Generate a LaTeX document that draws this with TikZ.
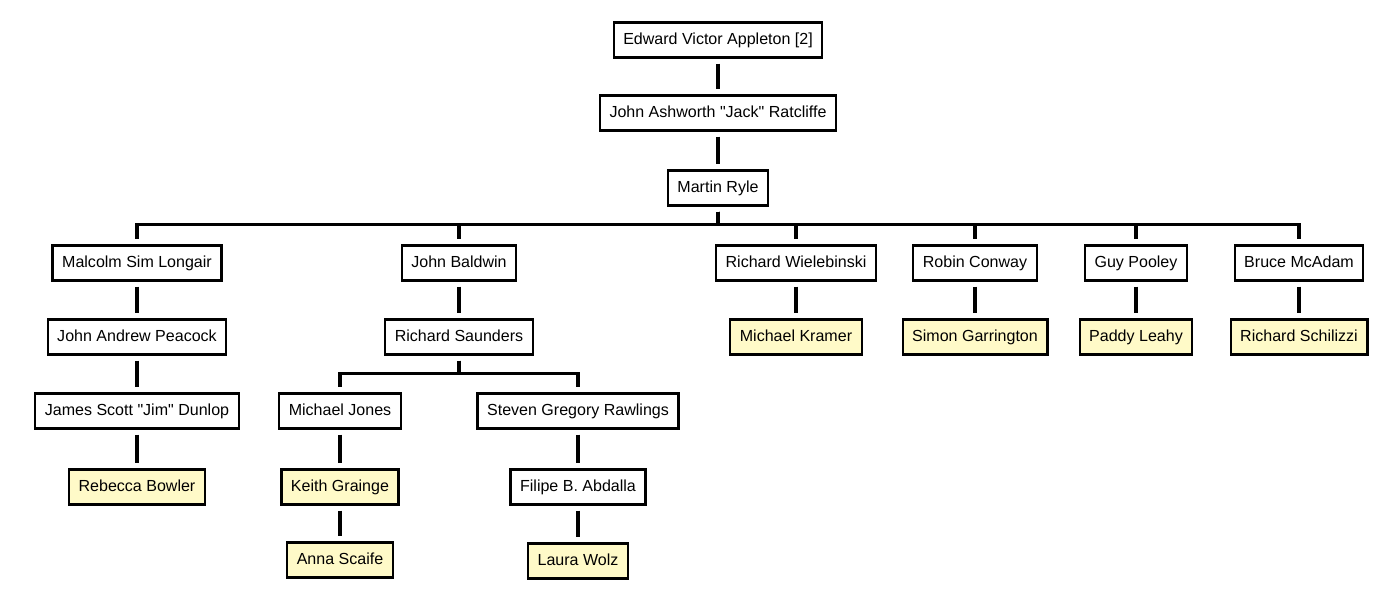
\documentclass[tikz,border=0pt]{standalone}
\usepackage{fontspec}
\setmainfont{Liberation Sans}
\usepackage{tikz}
\definecolor{leafyellow}{RGB}{255,250,200}

\begin{document}
\begin{tikzpicture}[x=0.025cm, y=-0.025cm,
                box/.style={rectangle, draw, line width=1.6pt, fill=white,
                minimum height=24.9pt, inner xsep=6.8pt, inner ysep=0pt,
                text height=8.4pt, text depth=2.4pt,
                font=\fontsize{11.4}{13}\selectfont},
                leaf/.style={box, fill=leafyellow},
                link/.style={line width=2.4pt, shorten <=3.5pt, shorten >=3.5pt}
            ]
        \useasboundingbox (0,0) rectangle (1400,600);

        \node[box]  (appleton)   at (718,40)  {Edward Victor Appleton [2]};
        \node[box]  (ratcliffe)  at (718,113) {John Ashworth \textquotedbl Jack\textquotedbl{} Ratcliffe};
        \node[box]  (ryle)       at (718,188) {Martin Ryle};

        \node[box]  (longair)    at (137,263)  {Malcolm Sim Longair};
        \node[box]  (baldwin)    at (459,263)  {John Baldwin};
        \node[box]  (wielebinski) at (796,263) {Richard Wielebinski};
        \node[box]  (conway)     at (975,263)  {Robin Conway};
        \node[box]  (pooley)     at (1136,263) {Guy Pooley};
        \node[box]  (mcadam)     at (1299,263) {Bruce McAdam};

        \node[box]  (peacock)    at (137,337)  {John Andrew Peacock};
        \node[box]  (saunders)   at (459,337)  {Richard Saunders};
        \node[leaf] (kramer)     at (796,337)  {Michael Kramer};
        \node[leaf] (garrington) at (975,337)  {Simon Garrington};
        \node[leaf] (leahy)      at (1136,337) {Paddy Leahy};
        \node[leaf] (schilizzi)  at (1299,337) {Richard Schilizzi};

        \node[box]  (dunlop)     at (137,411)  {James Scott \textquotedbl Jim\textquotedbl{} Dunlop};
        \node[box]  (jones)      at (340,411)  {Michael Jones};
        \node[box]  (rawlings)   at (578,411)  {Steven Gregory Rawlings};

        \node[leaf] (bowler)     at (137,487)  {Rebecca Bowler};
        \node[leaf] (grainge)    at (340,487)  {Keith Grainge};
        \node[box]  (abdalla)    at (578,487)  {Filipe B. Abdalla};

        \node[leaf] (scaife)     at (340,560)  {Anna Scaife};
        \node[leaf] (wolz)       at (578,561)  {Laura Wolz};

        \draw[link] (appleton)  -- (ratcliffe);
        \draw[link] (ratcliffe) -- (ryle);
        \foreach \child in {longair, baldwin, wielebinski, conway, pooley, mcadam}
            \draw[link] (ryle.south) -- ++(0,18) -| (\child.north);
        \draw[link] (longair)     -- (peacock);
        \draw[link] (baldwin)     -- (saunders);
        \draw[link] (wielebinski) -- (kramer);
        \draw[link] (conway)      -- (garrington);
        \draw[link] (pooley)      -- (leahy);
        \draw[link] (mcadam)      -- (schilizzi);
        \draw[link] (peacock)     -- (dunlop);
        \foreach \child in {jones, rawlings}
            \draw[link] (saunders.south) -- ++(0,18) -| (\child.north);
        \draw[link] (dunlop)   -- (bowler);
        \draw[link] (jones)    -- (grainge);
        \draw[link] (rawlings) -- (abdalla);
        \draw[link] (grainge)  -- (scaife);
        \draw[link] (abdalla)  -- (wolz);
            \end{tikzpicture}
\end{document}
